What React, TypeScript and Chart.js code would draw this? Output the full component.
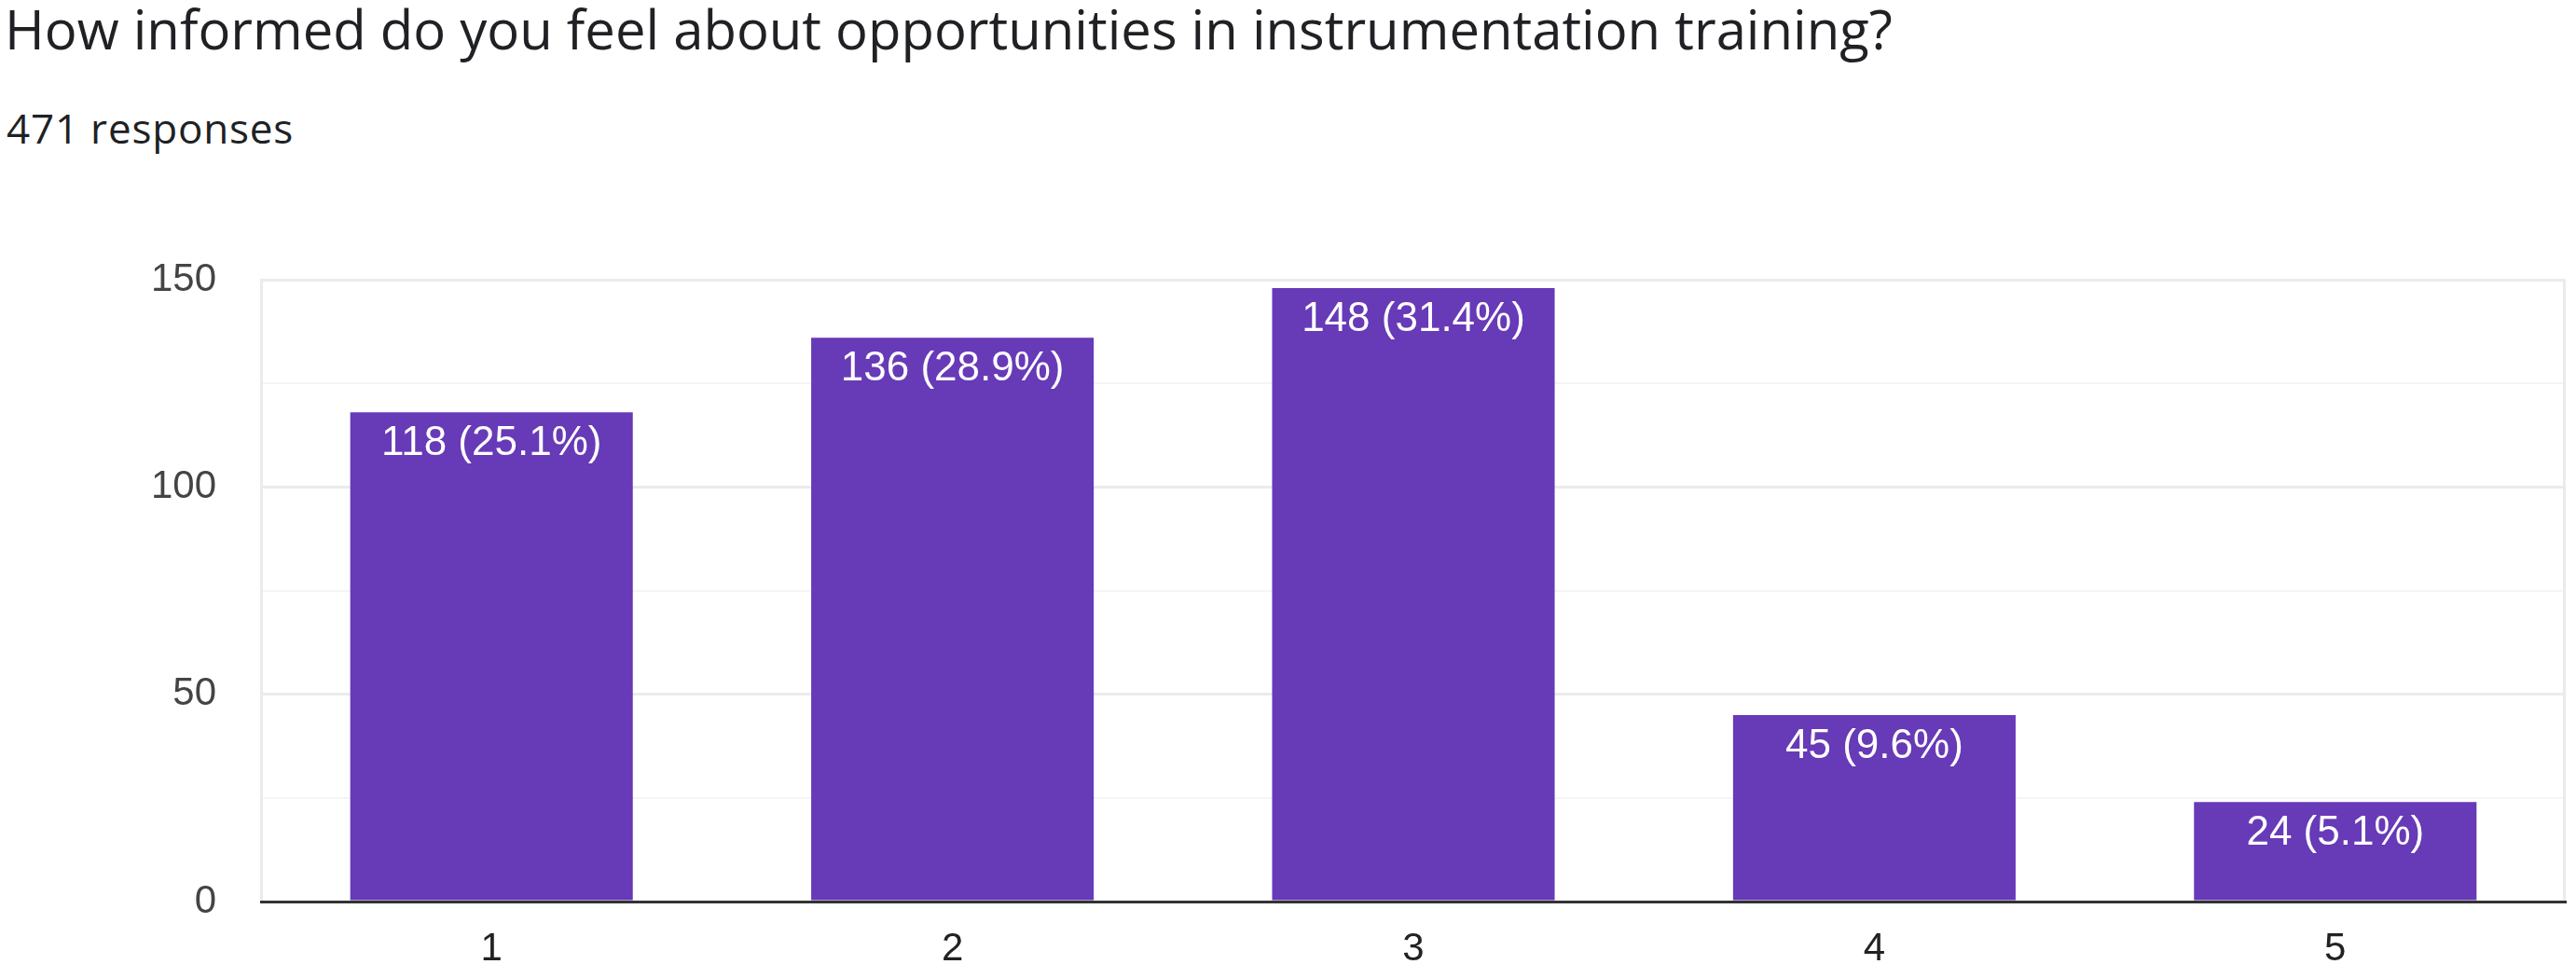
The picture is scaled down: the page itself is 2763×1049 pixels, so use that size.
import React, { useEffect, useRef } from "react";
import { Chart, registerables } from "chart.js";

Chart.register(...registerables);

const TITLE = "How informed do you feel about opportunities in instrumentation training?";
const SUBTITLE = "471 responses";
const categories = ["1", "2", "3", "4", "5"];
const counts = [118, 136, 148, 45, 24];
const yTicksShown = [0, 50, 100, 150];

const W = 2763;
const H = 1049;
const BAR_COLOR = "#673ab7";

export default function App() {
  const ref = useRef<HTMLCanvasElement | null>(null);

  useEffect(() => {
    const canvas = ref.current;
    if (!canvas) return;
    const total = counts.reduce((a, b) => a + b, 0);

    const labelPlugin = {
      id: "barLabels",
      afterDatasetsDraw(chart: any) {
        const ctx = chart.ctx;
        const meta = chart.getDatasetMeta(0);
        ctx.save();
        ctx.fillStyle = "#ffffff";
        ctx.font = "44px 'Liberation Sans', Arial, sans-serif";
        ctx.textAlign = "center";
        ctx.textBaseline = "alphabetic";
        meta.data.forEach((bar: any, i: number) => {
          const v = counts[i];
          const pct = ((v / total) * 100).toFixed(1);
          ctx.fillText(`${v} (${pct}%)`, bar.x, bar.y + 46);
        });
        ctx.restore();
      },
    };

    const framePlugin = {
      id: "rightFrame",
      beforeDatasetsDraw(chart: any) {
        const { ctx, chartArea } = chart;
        ctx.save();
        ctx.strokeStyle = "#ebebeb";
        ctx.lineWidth = 3;
        ctx.beginPath();
        ctx.moveTo(chartArea.right - 1.5, chartArea.top);
        ctx.lineTo(chartArea.right - 1.5, chartArea.bottom);
        ctx.stroke();
        ctx.restore();
      },
    };

    const chart = new Chart(canvas, {
      type: "bar",
      data: {
        labels: categories,
        datasets: [
          {
            data: counts,
            backgroundColor: BAR_COLOR,
            borderWidth: 0,
            barPercentage: 0.613,
            categoryPercentage: 1,
          },
        ],
      },
      options: {
        animation: false,
        responsive: false,
        devicePixelRatio: 1,
        layout: { padding: { top: 300, right: 11, bottom: 0, left: 0 } },
        plugins: {
          legend: { display: false },
          tooltip: { enabled: false },
          title: { display: false },
        },
        scales: {
          x: {
            grid: { display: false, drawTicks: false },
            border: { display: true, color: "#333333", width: 3, z: 1 },
            ticks: {
              color: "#222222",
              padding: 26,
              font: { family: "'Liberation Sans', Arial, sans-serif", size: 42 },
            },
            afterFit(scale: any) {
              scale.height = 82;
            },
          },
          y: {
            min: 0,
            max: 150,
            grid: {
              drawTicks: false,
              color: (c: any) =>
                c.tick && yTicksShown.includes(c.tick.value) ? "#ebebeb" : "#f5f5f5",
              lineWidth: (c: any) =>
                c.tick && yTicksShown.includes(c.tick.value) ? 3 : 2,
            },
            border: { display: true, color: "#ebebeb", width: 3 },
            ticks: {
              stepSize: 25,
              color: "#444444",
              padding: 48,
              font: { family: "'Liberation Sans', Arial, sans-serif", size: 42 },
              callback: (v: any) => (yTicksShown.includes(Number(v)) ? String(v) : ""),
            },
            afterFit(scale: any) {
              scale.width = 280;
            },
          },
        },
      },
      plugins: [framePlugin, labelPlugin],
    });

    return () => chart.destroy();
  }, []);

  return (
    <div
      style={{
        position: "fixed",
        left: 0,
        top: 0,
        width: W,
        height: H,
        background: "#ffffff",
        overflow: "hidden",
      }}
    >
      <div
        style={{
          position: "absolute",
          left: 5,
          top: 2,
          fontFamily: "'Open Sans', sans-serif",
          fontSize: 58,
          lineHeight: 1,
          color: "#202124",
          whiteSpace: "nowrap",
        }}
      >
        {TITLE}
      </div>
      <div
        style={{
          position: "absolute",
          left: 7,
          top: 115,
          fontFamily: "'Open Sans', sans-serif",
          fontSize: 44,
          letterSpacing: 0.8,
          lineHeight: 1,
          color: "#202124",
          whiteSpace: "nowrap",
        }}
      >
        {SUBTITLE}
      </div>
      <canvas
        ref={ref}
        width={W}
        height={H}
        style={{ position: "absolute", left: 0, top: 0, width: W, height: H }}
      />
    </div>
  );
}
